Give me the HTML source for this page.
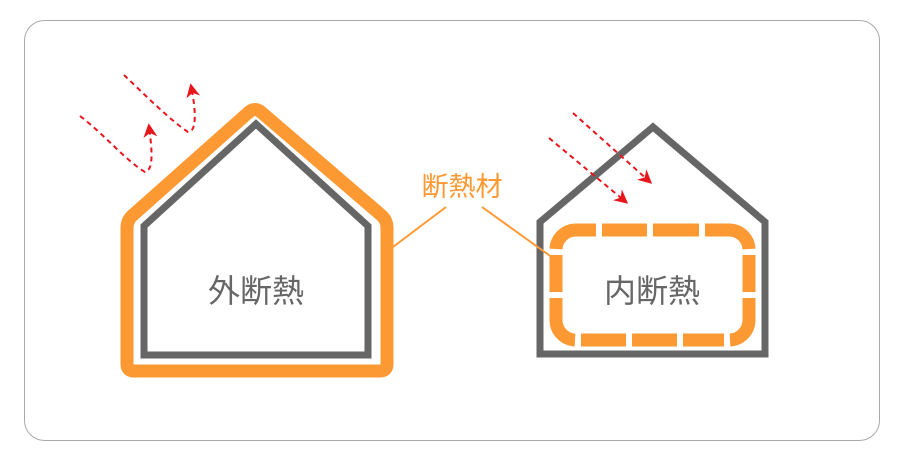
<!DOCTYPE html>
<html><head><meta charset="utf-8"><style>
body{margin:0;background:#fff;}
svg{display:block;}
text{font-family:"Liberation Sans","Noto Sans CJK JP",sans-serif;}
</style></head><body>
<svg width="900" height="460" viewBox="0 0 900 460" xmlns="http://www.w3.org/2000/svg">
<defs>
<marker id="ah" viewBox="0 0 10 10" refX="8" refY="5" markerWidth="7" markerHeight="7" orient="auto">
<path d="M0,0 L10,5 L0,10 L3,5 Z" fill="#e8151b"/>
</marker>
</defs>
<rect x="24.5" y="20.5" width="855" height="420" rx="20" fill="#fff" stroke="#aaa" stroke-width="1"/>
<!-- left house -->
<path d="M127,228 Q127,220 133,215 L249,112 Q255,107 261,112 L381,215 Q387,220 387,228 L387,364 Q387,371 380,371 L134,371 Q127,371 127,364 Z" fill="none" stroke="#fd9933" stroke-width="13" stroke-linejoin="round"/>
<path d="M144,226 L256,124 L368,226 L368,355 L144,355 Z" fill="#fff" stroke="#666" stroke-width="7" stroke-linejoin="miter"/>
<text x="256" y="302" font-size="32" fill="#666" text-anchor="middle">外断熱</text>
<!-- right house -->
<path d="M540,222 L653,127 L765,222 L765,354 L540,354 Z" fill="#fff" stroke="#666" stroke-width="7"/>
<g fill="none" stroke="#fd9933" stroke-width="13">
<path d="M556,249 A20,20 0 0 1 576,230 L596,230"/>
<path d="M602,230 L647,230"/>
<path d="M653,230 L699,230"/>
<path d="M705,230 L729,230 A20,20 0 0 1 749,249"/>
<path d="M749,255 L749,292"/>
<path d="M749,298 L749,320 A20,20 0 0 1 730,340"/>
<path d="M724,340 L683,340"/>
<path d="M677,340 L632,340"/>
<path d="M626,340 L581,340"/>
<path d="M575,340 A20,20 0 0 1 556,320 L556,298"/>
<path d="M556,292 L556,255"/>
</g>
<text x="652" y="302" font-size="32" fill="#666" text-anchor="middle">内断熱</text>
<!-- label -->
<text x="462" y="196" font-size="27" fill="#fd9933" text-anchor="middle">断熱材</text>
<line x1="446" y1="207" x2="393" y2="247" stroke="#fd9933" stroke-width="2"/>
<line x1="482" y1="207" x2="553" y2="258" stroke="#fd9933" stroke-width="2"/>
<!-- arrows -->
<g fill="none" stroke="#e8151b" stroke-width="2" stroke-dasharray="5 4">
<path d="M80,116 C105,135 125,160 145,172 C154,170 152,150 149,126" marker-end="url(#ah)"/>
<path d="M124,75 C145,95 170,120 188,132 C197,132 196,110 191,86" marker-end="url(#ah)"/>
<path d="M549,138 L626,202" marker-end="url(#ah)"/>
<path d="M573,113 L650,182" marker-end="url(#ah)"/>
</g>
</svg>
</body></html>
